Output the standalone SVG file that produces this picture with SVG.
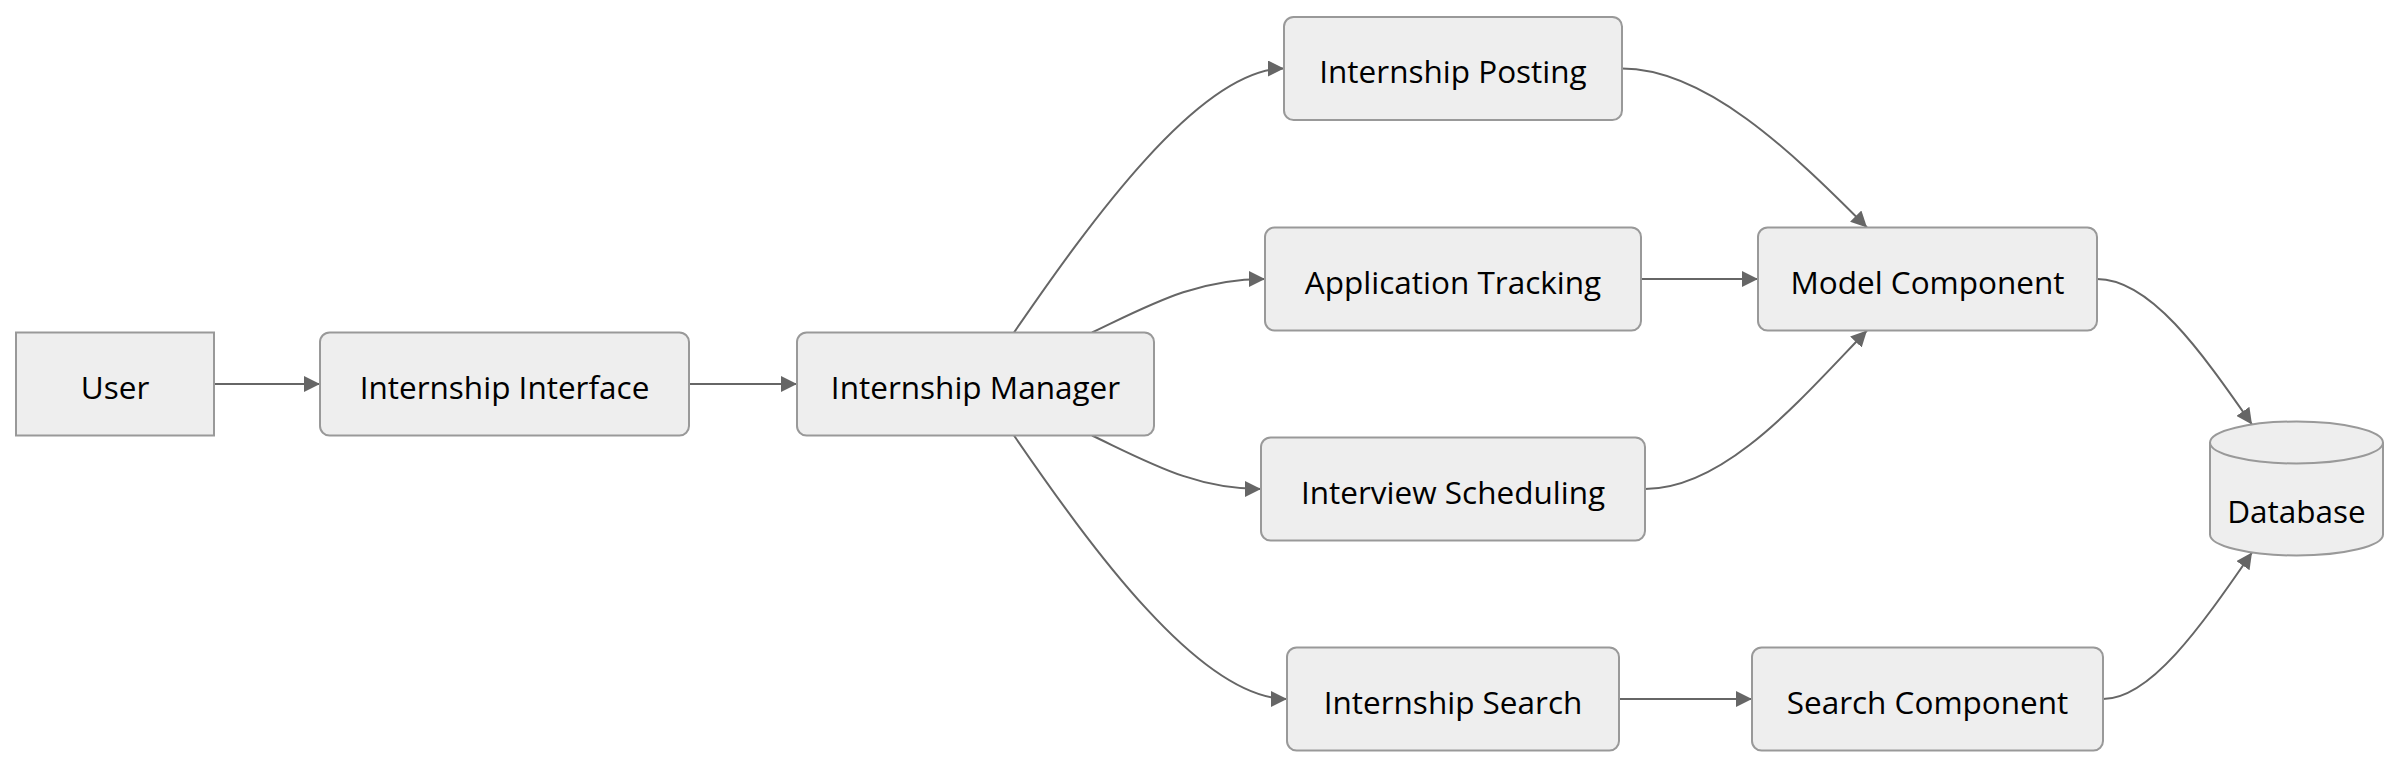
<svg xmlns="http://www.w3.org/2000/svg" width="2400" height="768" viewBox="0 0 2400 768">
<style>
  .node rect, .node path { fill: #eeeeee; stroke: #999999; stroke-width: 2; }
  .node text { font-family: "Open Sans", "Liberation Sans", sans-serif; font-size: 31.5px; fill: #000; text-anchor: middle; }
  .edge { fill: none; stroke: #666666; stroke-width: 2; }
</style>
<defs>
  <marker id="arrow" viewBox="0 0 10 10" refX="10" refY="5" markerWidth="16" markerHeight="16" markerUnits="userSpaceOnUse" orient="auto">
    <path d="M0,0 L10,5 L0,10 z" fill="#666666"/>
  </marker>
</defs>
<rect width="2400" height="768" fill="#ffffff"/>
<g id="connectors">
  <path class="edge" marker-end="url(#arrow)" d="M214,384 L320,384"/>
  <path class="edge" marker-end="url(#arrow)" d="M689,384 L797,384"/>
  <path class="edge" marker-end="url(#arrow)" d="M1014,332.5 C1090,222 1200,68.5 1284,68.5"/>
  <path class="edge" marker-end="url(#arrow)" d="M1092,332.5 C1150,305 1195,279 1265,279"/>
  <path class="edge" marker-end="url(#arrow)" d="M1092,435.5 C1150,463 1195,489 1261,489"/>
  <path class="edge" marker-end="url(#arrow)" d="M1014,435.5 C1090,546 1200,699 1287,699"/>
  <path class="edge" marker-end="url(#arrow)" d="M1622,68.5 C1705,68.5 1790,150 1867,227.5"/>
  <path class="edge" marker-end="url(#arrow)" d="M1641,279 L1758,279"/>
  <path class="edge" marker-end="url(#arrow)" d="M1645,489 C1725,489 1800,400 1867,330.5"/>
  <path class="edge" marker-end="url(#arrow)" d="M1619,699 L1752,699"/>
  <path class="edge" marker-end="url(#arrow)" d="M2097,279 C2150,279 2200,350 2252,424.5"/>
  <path class="edge" marker-end="url(#arrow)" d="M2103,699 C2150,699 2200,628 2252,552.5"/>
</g>
<g id="user" class="node">
  <rect x="16" y="332.5" width="198" height="103"/>
  <text x="115" y="398.5">User</text>
</g>
<g id="internship-interface" class="node">
  <rect x="320" y="332.5" width="369" height="103" rx="9.6" ry="9.6"/>
  <text x="504.5" y="398.5">Internship Interface</text>
</g>
<g id="internship-manager" class="node">
  <rect x="797" y="332.5" width="357" height="103" rx="9.6" ry="9.6"/>
  <text x="975.5" y="398.5">Internship Manager</text>
</g>
<g id="internship-posting" class="node">
  <rect x="1284" y="17" width="338" height="103" rx="9.6" ry="9.6"/>
  <text x="1453" y="83">Internship Posting</text>
</g>
<g id="application-tracking" class="node">
  <rect x="1265" y="227.5" width="376" height="103" rx="9.6" ry="9.6"/>
  <text x="1453" y="293.5">Application Tracking</text>
</g>
<g id="interview-scheduling" class="node">
  <rect x="1261" y="437.5" width="384" height="103" rx="9.6" ry="9.6"/>
  <text x="1453" y="503.5">Interview Scheduling</text>
</g>
<g id="internship-search" class="node">
  <rect x="1287" y="647.5" width="332" height="103" rx="9.6" ry="9.6"/>
  <text x="1453" y="713.5">Internship Search</text>
</g>
<g id="model-component" class="node">
  <rect x="1758" y="227.5" width="339" height="103" rx="9.6" ry="9.6"/>
  <text x="1927.5" y="293.5">Model Component</text>
</g>
<g id="search-component" class="node">
  <rect x="1752" y="647.5" width="351" height="103" rx="9.6" ry="9.6"/>
  <text x="1927.5" y="713.5">Search Component</text>
</g>
<g id="database" class="node">
  <path d="M2210,442.5 a86.5,21 0 0 0 173,0 a86.5,21 0 0 0 -173,0 l0,92 a86.5,21 0 0 0 173,0 l0,-92"/>
  <text x="2296.5" y="523">Database</text>
</g>
</svg>
